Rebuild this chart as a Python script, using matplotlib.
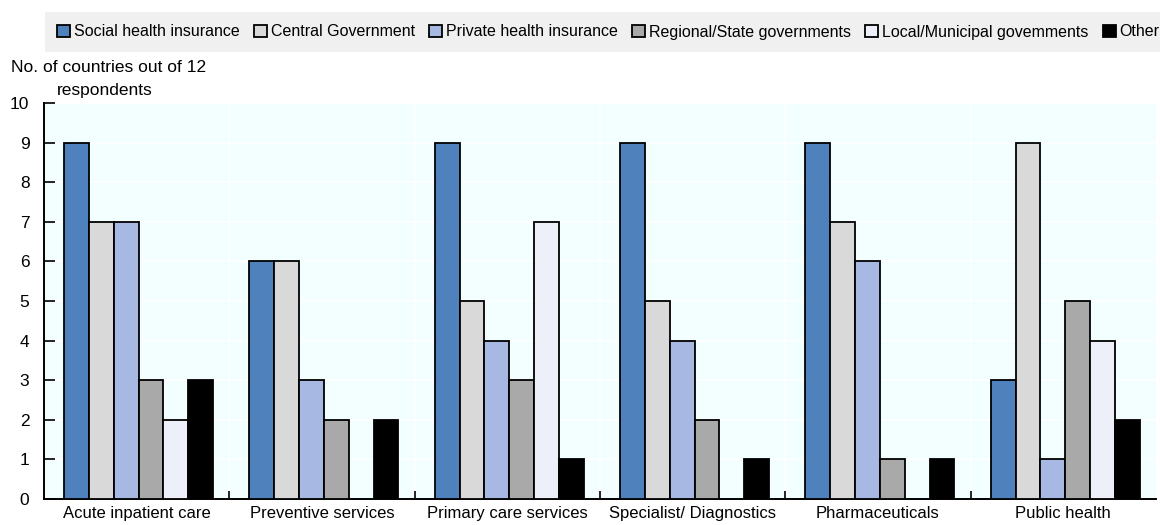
import matplotlib

matplotlib.use("Agg")
import matplotlib.pyplot as plt
from matplotlib.patches import Patch, Rectangle
import numpy as np

plt.rcParams["font.family"] = ["Liberation Sans", "DejaVu Sans"]

categories = ["Acute inpatient care", "Preventive services", "Primary care services",
              "Specialist/ Diagnostics", "Pharmaceuticals", "Public health"]
series = ["Social health insurance", "Central Government", "Private health insurance",
          "Regional/State governments", "Local/Municipal govemments", "Other"]
social = [9, 6, 9, 9, 9, 3]
central = [7, 6, 5, 5, 7, 9]
private = [7, 3, 4, 4, 6, 1]
regional = [3, 2, 3, 2, 1, 5]
local = [2, 0, 7, 0, 0, 4]
other = [3, 2, 1, 1, 1, 2]
values = [social, central, private, regional, local, other]

colors = ["#4f81bd", "#d9d9d9", "#a7b8e3", "#a9a9a9", "#eef0f9", "#000000"]

W, H = 1160, 525
fig = plt.figure(figsize=(W / 100, H / 100), dpi=100)
ax = fig.add_axes([44 / W, (H - 499) / H, 1112 / W, 396 / H])
ax.set_facecolor("#f3ffff")

x = np.arange(len(categories))
w = 0.134
for i, (vals, c) in enumerate(zip(values, colors)):
    pos = x + (i - 2.5) * w + 0.01
    v = np.array(vals, dtype=float)
    keep = v > 0
    ax.bar(pos[keep], v[keep], width=w, color=c, edgecolor="black", linewidth=1.3, zorder=3)

ax.set_xlim(-0.5, len(categories) - 0.5)
ax.set_ylim(0, 10)
ax.set_yticks(range(0, 11))
ax.grid(axis="y", color="white", linewidth=1.2, zorder=1)
for b in np.arange(0.5, len(categories) - 0.5, 1):
    ax.axvline(b, color="white", linewidth=1.2, zorder=1)

ax.set_xticks(x)
ax.set_xticklabels(categories, fontsize=12)
ax.set_xticks(np.arange(0.5, len(categories) - 0.5, 1), minor=True)
ax.tick_params(axis="x", which="major", length=0, pad=5)
ax.tick_params(axis="x", which="minor", direction="in", length=6, width=1.2)
ax.tick_params(axis="y", direction="in", length=8, width=1.2, labelsize=12.5, pad=10.5)

for s in ("top", "right"):
    ax.spines[s].set_visible(False)
ax.spines["left"].set_linewidth(1.4)
ax.spines["bottom"].set_linewidth(1.4)

fig.text(11 / W, 1 - 68 / H, "No. of countries out of 12", fontsize=12.5, va="center")
fig.text(57 / W, 1 - 91 / H, "respondents", fontsize=12.5, va="center")

# grey legend band
fig.patches.append(Rectangle((45 / W, 1 - 52 / H), (W - 45) / W, 40 / H,
                             transform=fig.transFigure, facecolor="#f0f0f0",
                             edgecolor="none", zorder=0))
handles = [Patch(facecolor=c, edgecolor="black", linewidth=1.3) for c in colors]
fig.legend(handles, series, loc="center left", bbox_to_anchor=(57 / W, 1 - 32 / H),
           ncol=6, fontsize=11.5, frameon=False, borderpad=0, borderaxespad=0,
           handlelength=0.8, handleheight=0.8, handletextpad=0.25, columnspacing=0.9)

fig.savefig("out.png", dpi=100)
